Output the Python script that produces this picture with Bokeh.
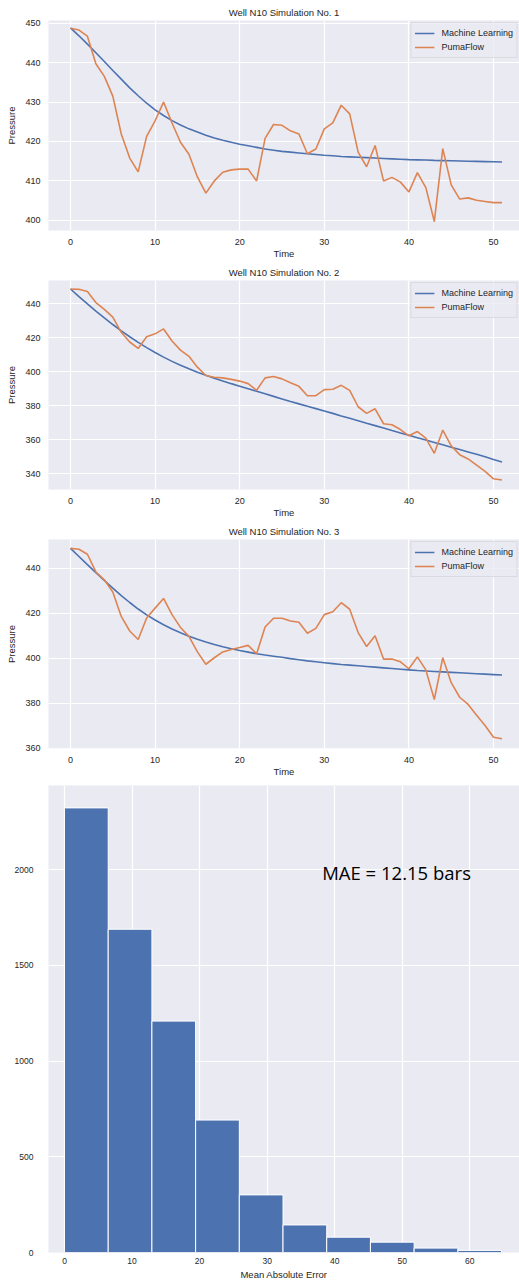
from bokeh.plotting import figure
from bokeh.models import Range1d, FixedTicker, ColumnDataSource
from bokeh.layouts import column
from bokeh.embed import file_html
from bokeh.resources import INLINE
from bokeh.core.properties import value

time = list(range(52))

ml_1 = [448.8, 446.8, 444.7, 442.5, 440.3, 438.0, 435.8, 433.6, 431.6, 429.7,
        428.0, 426.6, 425.3, 424.2, 423.2, 422.4, 421.6, 420.9, 420.3, 419.8,
        419.3, 418.9, 418.5, 418.1, 417.8, 417.5, 417.3, 417.1, 416.9, 416.7,
        416.5, 416.4, 416.2, 416.1, 416.0, 415.9, 415.8, 415.7, 415.6, 415.5,
        415.4, 415.35, 415.3, 415.2, 415.15, 415.1, 415.05, 415.0, 414.95, 414.9,
        414.85, 414.8]
pf_1 = [448.7, 448.25, 446.7, 439.7, 436.5, 431.5, 421.9, 415.8, 412.3, 421.3,
        425.25, 430.0, 424.7, 419.8, 416.75, 411.0, 406.9, 410.0, 412.2, 412.8,
        413.0, 413.0, 410.0, 420.8, 424.3, 424.1, 422.7, 421.9, 416.9, 418.1,
        423.2, 424.7, 429.2, 427.0, 417.3, 413.6, 419.0, 410.0, 410.9, 409.7,
        407.2, 412.1, 408.3, 399.7, 418.2, 409.0, 405.4, 405.7, 405.1, 404.8,
        404.5, 404.5]

ml_2 = [448.6, 444.1, 439.8, 435.6, 431.6, 427.7, 424.0, 420.5, 417.2, 414.1,
        411.2, 408.5, 406.0, 403.7, 401.6, 399.6, 397.8, 396.1, 394.5, 392.9,
        391.4, 389.9, 388.4, 386.9, 385.4, 383.9, 382.4, 381.0, 379.6, 378.2,
        376.8, 375.4, 373.9, 372.5, 371.1, 369.6, 368.2, 366.8, 365.3, 363.9,
        362.5, 361.1, 359.7, 358.3, 356.9, 355.5, 354.1, 352.7, 351.3, 349.9,
        348.3, 346.8]
pf_2 = [448.6, 448.4, 447.1, 440.6, 436.6, 432.0, 423.1, 417.4, 413.6, 420.5,
        422.2, 425.1, 418.0, 412.6, 409.0, 402.6, 397.7, 396.7, 396.3, 395.4,
        394.4, 392.9, 389.0, 396.3, 397.1, 395.7, 393.4, 391.3, 385.8, 385.8,
        389.4, 389.6, 391.9, 388.9, 379.3, 375.4, 378.1, 369.3, 368.7, 365.9,
        362.2, 364.7, 360.9, 351.9, 365.5, 356.3, 351.1, 348.6, 345.0, 341.3,
        336.9, 336.2]

ml_3 = [448.9, 445.3, 441.7, 438.1, 434.6, 431.2, 427.9, 424.8, 421.9, 419.3,
        417.0, 414.9, 413.0, 411.3, 409.8, 408.4, 407.2, 406.1, 405.1, 404.2,
        403.4, 402.7, 402.0, 401.4, 400.9, 400.4, 399.8, 399.3, 398.8, 398.4,
        398.0, 397.6, 397.2, 396.9, 396.6, 396.3, 396.0, 395.7, 395.4, 395.1,
        394.8, 394.5, 394.3, 394.1, 393.9, 393.7, 393.5, 393.3, 393.1, 392.9,
        392.7, 392.5]
pf_3 = [448.9, 448.5, 446.3, 438.4, 434.9, 429.5, 418.6, 412.1, 408.3, 417.9,
        422.3, 426.6, 419.4, 413.7, 409.7, 402.8, 397.3, 400.2, 402.8, 403.9,
        404.8, 405.7, 402.0, 413.9, 417.8, 417.8, 416.6, 416.0, 411.1, 413.3,
        419.4, 420.7, 424.7, 421.8, 411.4, 405.2, 410.0, 399.6, 399.6, 398.4,
        395.3, 400.6, 394.8, 381.6, 400.2, 389.1, 382.6, 379.4, 374.6, 370.0,
        364.8, 364.1]

titles = ["Well N10 Simulation No. 1", "Well N10 Simulation No. 2", "Well N10 Simulation No. 3"]
y_ticks = [[400, 410, 420, 430, 440, 450],
           [340, 360, 380, 400, 420, 440],
           [360, 380, 400, 420, 440]]
x_ticks = [0, 10, 20, 30, 40, 50]

hist_edges = [0.0, 6.47, 12.94, 19.41, 25.88, 32.35, 38.82, 45.29, 51.76, 58.23, 64.7]
hist_counts = [2323, 1689, 1209, 692, 301, 144, 80, 54, 23, 11]
hist_x_ticks = [0, 10, 20, 30, 40, 50, 60]
hist_y_ticks = [0, 500, 1000, 1500, 2000]
mae_text = "MAE = 12.15 bars"

BG = "#EAEAF2"
BLUE = "#4C72B0"
ORANGE = "#DD8452"
TXT = "#262626"
FONT = "Liberation Sans"
W = 519


def style(p, xstand, ystand):
    p.background_fill_color = BG
    p.border_fill_color = "white"
    p.outline_line_color = None
    for g in (p.xgrid, p.ygrid):
        g.grid_line_color = "white"
        g.grid_line_width = 1.2
    for ax in (p.xaxis, p.yaxis):
        ax.axis_line_color = None
        ax.major_tick_line_color = None
        ax.minor_tick_line_color = None
        ax.major_tick_out = 0
        ax.major_tick_in = 0
        ax.minor_tick_out = 0
        ax.minor_tick_in = 0
        ax.major_label_text_font = FONT
        ax.major_label_text_color = TXT
        ax.axis_label_text_font = FONT
        ax.axis_label_text_color = TXT
        ax.axis_label_text_font_style = "normal"
    p.xaxis.major_label_standoff = xstand
    p.yaxis.major_label_standoff = ystand


layout_specs = [
    # (height, top border, bottom border, y range)
    (261, 20, 28, (397.43, 450.68)),
    (259, 17, 28, (330.6, 453.6)),
    (259, 16, 28, (359.78, 452.86)),
]
series = [(ml_1, pf_1), (ml_2, pf_2), (ml_3, pf_3)]

figs = []
for i, ((ml, pf), (hgt, top, bot, yr)) in enumerate(zip(series, layout_specs)):
    p = figure(width=W, height=hgt, output_backend="svg", toolbar_location=None,
               x_range=Range1d(-2.6, 53.07), y_range=Range1d(*yr),
               min_border_left=48, min_border_right=0, min_border_top=top,
               min_border_bottom=bot)
    p.title.text = titles[i]
    p.title.text_font = FONT
    p.title.text_font_size = "9.5px"
    p.title.text_font_style = "normal"
    p.title.text_color = TXT
    p.title.align = "center"
    p.title.standoff = 6
    style(p, 8, 8)
    p.xaxis.ticker = FixedTicker(ticks=x_ticks)
    p.yaxis.ticker = FixedTicker(ticks=y_ticks[i])
    p.xaxis.major_label_text_font_size = "9px"
    p.yaxis.major_label_text_font_size = "9px"
    p.xaxis.axis_label = "Time"
    p.yaxis.axis_label = "Pressure"
    p.xaxis.axis_label_text_font_size = "9.5px"
    p.yaxis.axis_label_text_font_size = "9.5px"
    p.xaxis.axis_label_standoff = 0
    p.yaxis.axis_label_standoff = 5
    src = ColumnDataSource(dict(t=time, ml=ml, pf=pf))
    p.line("t", "ml", source=src, line_color=BLUE, line_width=1.6, legend_label="Machine Learning")
    p.line("t", "pf", source=src, line_color=ORANGE, line_width=1.6, legend_label="PumaFlow")
    lg = p.legend[0]
    lg.location = "top_right"
    lg.margin = 2
    lg.padding = 3
    lg.spacing = 0
    lg.glyph_width = 20
    lg.glyph_height = 14
    lg.label_height = 14
    lg.label_standoff = 7
    lg.label_text_font = FONT
    lg.label_text_font_size = "9px"
    lg.label_text_color = TXT
    lg.background_fill_color = BG
    lg.background_fill_alpha = 0.8
    lg.border_line_color = "#CCCCCC"
    lg.border_line_width = 1
    figs.append(p)

h = figure(width=W, height=503, output_backend="svg", toolbar_location=None,
           x_range=Range1d(-2.37, 67.36), y_range=Range1d(0, 2440),
           min_border_left=48, min_border_right=0, min_border_top=6, min_border_bottom=29)
style(h, 5, 15)
h.xaxis.ticker = FixedTicker(ticks=hist_x_ticks)
h.yaxis.ticker = FixedTicker(ticks=hist_y_ticks)
h.xaxis.major_label_text_font_size = "8.5px"
h.yaxis.major_label_text_font_size = "8.5px"
h.xaxis.axis_label = "Mean Absolute Error"
h.xaxis.axis_label_text_font_size = "9.5px"
h.xaxis.axis_label_standoff = 2
h.quad(left=hist_edges[:-1], right=hist_edges[1:], top=hist_counts, bottom=0,
       fill_color=BLUE, line_color="white", line_width=1)
h.text(x=[38.15], y=[1983], text=[mae_text], text_font=value("Open Sans"),
       text_font_size="18.5px", text_baseline="alphabetic", text_align="left",
       text_color="black")
figs.append(h)

layout = column(*figs, spacing=0)
open("out.html", "w").write(file_html(layout, INLINE))
